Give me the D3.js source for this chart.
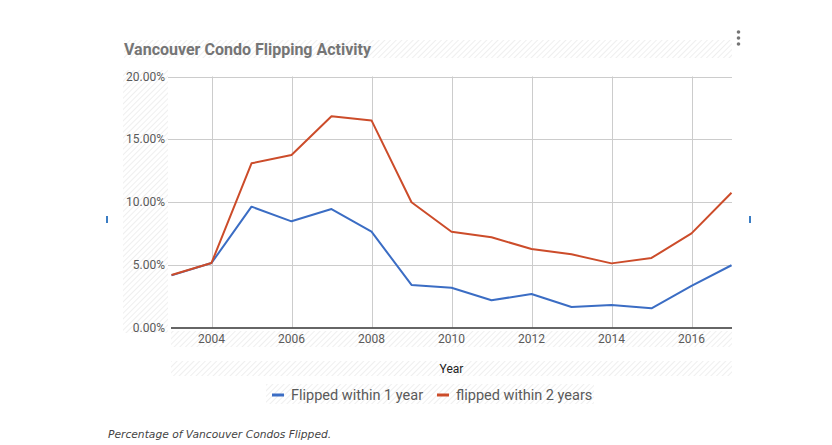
<!DOCTYPE html>
<html>
<head>
<meta charset="utf-8">
<script src="https://cdn.jsdelivr.net/npm/d3@7"></script>
<style>
  body { margin: 0; background: #fff; }
  svg { display: block; font-family: Roboto, "Noto Sans", sans-serif; }
</style>
</head>
<body>
<div class="chart"></div>
<script>
// data
const years = [2003, 2004, 2005, 2006, 2007, 2008, 2009, 2010, 2011, 2012, 2013, 2014, 2015, 2016, 2017];
const oneYear = [4.15, 5.14, 9.63, 8.46, 9.44, 7.64, 3.39, 3.17, 2.17, 2.67, 1.63, 1.79, 1.53, 3.31, 4.96];
const twoYears = [4.18, 5.14, 13.08, 13.75, 16.83, 16.5, 9.98, 7.63, 7.19, 6.25, 5.83, 5.11, 5.54, 7.5, 10.74];
const yTicks = [0, 5, 10, 15, 20];
const xTicks = [2004, 2006, 2008, 2010, 2012, 2014, 2016];
const seriesNames = ["Flipped within 1 year", "flipped within 2 years"];
const colors = ["#3b6dc4", "#cc4c2a"];

const width = 832, height = 445;
const svg = d3.select(".chart").append("svg")
  .attr("width", width)
  .attr("height", height);

// hatch pattern (the striped placeholder look in the screenshot)
const pat = svg.append("defs").append("pattern")
  .attr("id", "hatch")
  .attr("patternUnits", "userSpaceOnUse")
  .attr("width", 4).attr("height", 4)
  .attr("patternTransform", "rotate(45)");
pat.append("line")
  .attr("x1", 0).attr("y1", 0).attr("x2", 0).attr("y2", 4)
  .attr("stroke", "#ebebeb").attr("stroke-width", 1.6);

const bands = [[124, 40, 608, 18], [123, 70, 45, 263], [171, 331, 561, 16], [171, 361, 561, 15], [266, 384, 328, 20]];
svg.selectAll("rect.hatch").data(bands).enter().append("rect")
  .attr("class", "hatch")
  .attr("x", d => d[0]).attr("y", d => d[1])
  .attr("width", d => d[2]).attr("height", d => d[3])
  .attr("fill", "url(#hatch)");

const x = d3.scaleLinear().domain([2003, 2017]).range([171.5, 731.5]);
const y = d3.scaleLinear().domain([0, 20]).range([327.5, 76.5]);

// grid
svg.append("g").selectAll("line").data(yTicks.filter(d => d > 0)).enter().append("line")
  .attr("x1", 168).attr("x2", 732)
  .attr("y1", d => Math.round(y(d)) + 0.5).attr("y2", d => Math.round(y(d)) + 0.5)
  .attr("stroke", "#cccccc");
svg.append("g").selectAll("line").data(xTicks).enter().append("line")
  .attr("x1", d => Math.round(x(d)) + 0.5).attr("x2", d => Math.round(x(d)) + 0.5)
  .attr("y1", y(20)).attr("y2", y(0))
  .attr("stroke", "#cccccc");

// y labels
svg.append("g").selectAll("text").data(yTicks).enter().append("text")
  .attr("x", 165).attr("y", d => y(d))
  .attr("dy", "0.35em")
  .attr("text-anchor", "end")
  .attr("font-size", 12)
  .attr("fill", "#5a5a5a")
  .text(d => d3.format(".2f")(d) + "%");

// x labels
svg.append("g").selectAll("text").data(xTicks).enter().append("text")
  .attr("x", d => x(d)).attr("y", 343)
  .attr("text-anchor", "middle")
  .attr("font-size", 12)
  .attr("fill", "#5a5a5a")
  .text(d => d);

svg.append("text")
  .attr("x", (x(2003) + x(2017)) / 2).attr("y", 373)
  .attr("text-anchor", "middle")
  .attr("font-size", 12)
  .attr("fill", "#222")
  .text("Year");

// lines
const line = d3.line()
  .x((d, i) => x(years[i]))
  .y(d => y(d));
[oneYear, twoYears].forEach((s, k) => {
  svg.append("path")
    .datum(s)
    .attr("d", line)
    .attr("fill", "none")
    .attr("stroke", colors[k])
    .attr("stroke-width", 2)
    .attr("stroke-linejoin", "round");
});

// baseline
svg.append("line")
  .attr("x1", 171).attr("x2", 732)
  .attr("y1", y(0) + 0.5).attr("y2", y(0) + 0.5)
  .attr("stroke", "#333").attr("stroke-width", 1.3);

// title
svg.append("text")
  .attr("x", 124).attr("y", 55)
  .attr("font-size", 16)
  .attr("font-weight", "bold")
  .attr("fill", "#757575")
  .text("Vancouver Condo Flipping Activity");

// legend
const legX = [272, 437];
const leg = svg.append("g").selectAll("g").data(seriesNames).enter().append("g")
  .attr("transform", (d, i) => "translate(" + legX[i] + ",395)");
leg.append("line")
  .attr("x1", 0).attr("x2", 12).attr("y1", 0).attr("y2", 0)
  .attr("stroke", (d, i) => colors[i]).attr("stroke-width", 3);
leg.append("text")
  .attr("x", 19).attr("dy", "0.35em")
  .attr("font-size", 14.5)
  .attr("fill", "#5a5a5a")
  .text(d => d);

// menu dots
svg.append("g").selectAll("circle").data([0, 1, 2]).enter().append("circle")
  .attr("cx", 738.5).attr("cy", d => 32 + d * 6)
  .attr("r", 1.8)
  .attr("fill", "#757575");

// small side marks
svg.selectAll("rect.mark").data([106, 749]).enter().append("rect")
  .attr("class", "mark")
  .attr("x", d => d).attr("y", 216)
  .attr("width", 2).attr("height", 7)
  .attr("fill", "#3b7dc4");

// caption
svg.append("text")
  .attr("x", 108).attr("y", 438)
  .attr("font-family", "'DejaVu Sans', Verdana, sans-serif")
  .attr("font-style", "italic")
  .attr("font-size", 10.7)
  .attr("fill", "#444")
  .text("Percentage of Vancouver Condos Flipped.");
</script>
</body>
</html>
